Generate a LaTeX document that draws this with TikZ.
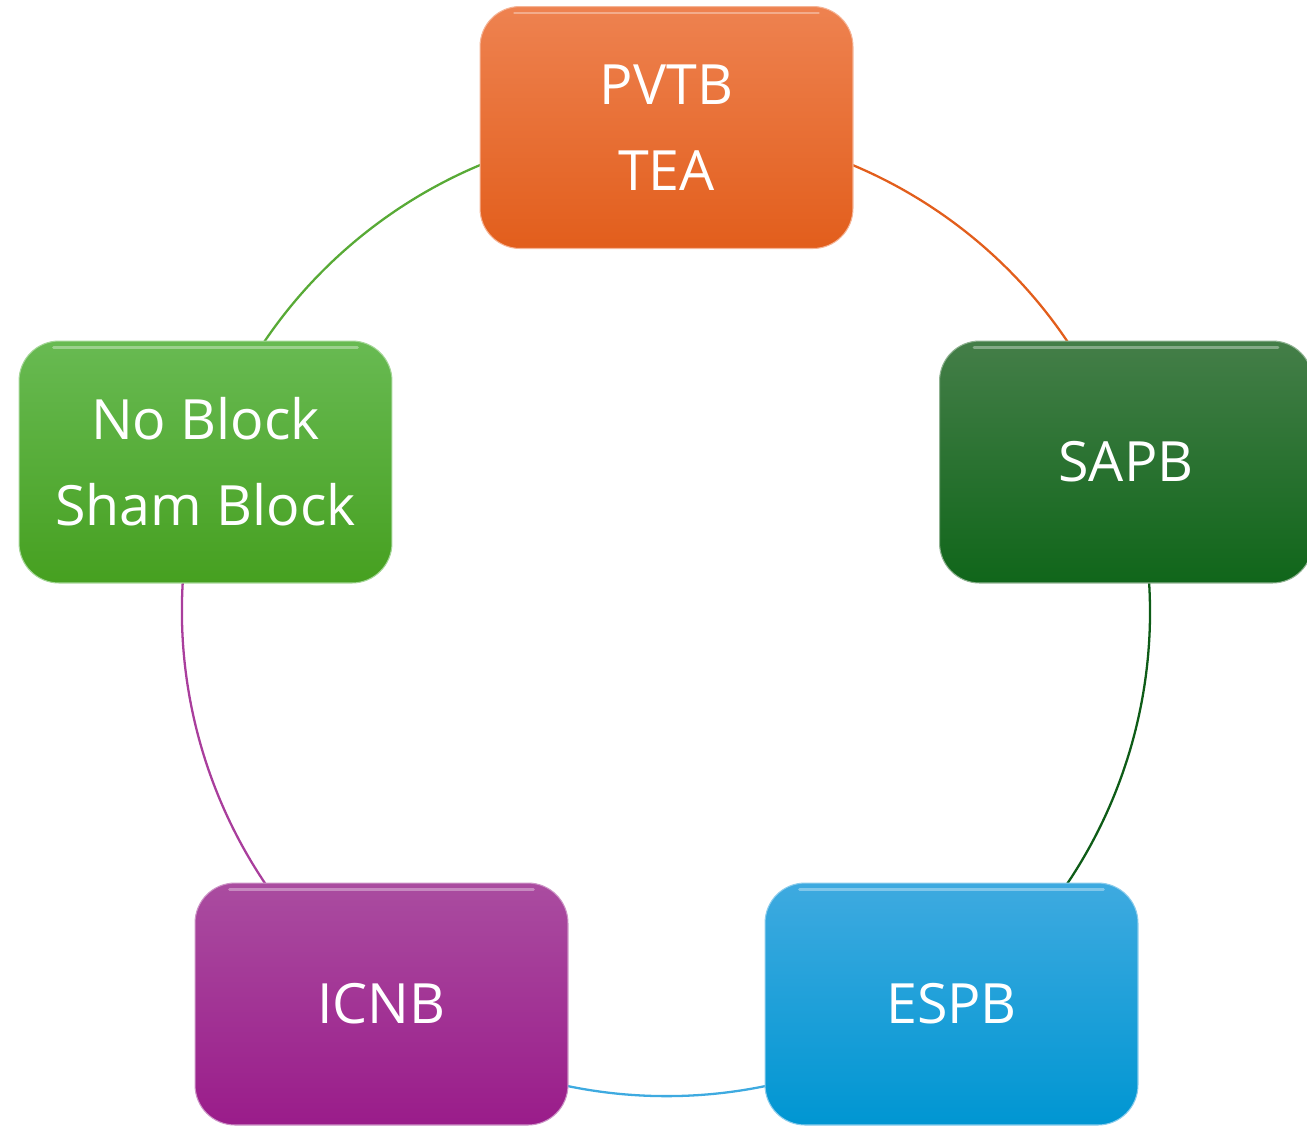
\documentclass[tikz,border=0pt]{standalone}
\usepackage{fontspec}
\setmainfont{Open Sans}
\usetikzlibrary{backgrounds}

\definecolor{orangetop}{RGB}{238,130,80}
\definecolor{orangebot}{RGB}{226,94,28}
\definecolor{darkgreentop}{RGB}{68,126,72}
\definecolor{darkgreenbot}{RGB}{16,102,26}
\definecolor{greentop}{RGB}{104,186,82}
\definecolor{greenbot}{RGB}{70,160,32}
\definecolor{purpletop}{RGB}{170,76,160}
\definecolor{purplebot}{RGB}{154,28,138}
\definecolor{bluetop}{RGB}{62,170,224}
\definecolor{bluebot}{RGB}{0,150,210}

\begin{document}
\begin{tikzpicture}[x=0.02cm, y=-0.02cm,
    box/.style={rectangle, rounded corners=0.8cm, minimum width=7.46cm, minimum height=4.84cm,
        text=white, align=center, font=\fontsize{31.6}{49}\selectfont, draw=#1top!60!white, line width=0.6pt},
    link/.style={line width=1.3pt, #1}]
    \useasboundingbox (0,0) rectangle (1307,1127);

    \node[box=orange, top color=orangetop, bottom color=orangebot] (pvtb) at (666.5,127.5) {PVTB\\TEA};
    \node[box=darkgreen, top color=darkgreentop, bottom color=darkgreenbot] (sapb) at (1126,462) {SAPB};
    \node[box=blue, top color=bluetop, bottom color=bluebot] (espb) at (951.5,1004) {ESPB};
    \node[box=purple, top color=purpletop, bottom color=purplebot] (icnb) at (381.5,1004) {ICNB};
    \node[box=green, top color=greentop, bottom color=greenbot] (noblock) at (205.5,462) {No Block\\Sham Block};

    % glossy rim
    \foreach \n in {pvtb,sapb,espb,icnb,noblock}
        \draw[white, opacity=0.35, line width=1.6pt, line cap=round]
            ([xshift=0.7cm,yshift=-0.14cm]\n.north west) -- ([xshift=-0.7cm,yshift=-0.14cm]\n.north east);

    \begin{scope}[on background layer]
        \draw[link=orangebot] (pvtb.center) to[bend left=36, looseness=0.94] (sapb.center);
        \draw[link=darkgreenbot!90!black] (sapb.center) to[bend left=36, looseness=0.94] (espb.center);
        \draw[link=bluetop] (espb.center) to[bend left=36, looseness=0.94] (icnb.center);
        \draw[link=purplebot!85!white] (icnb.center) to[bend left=36, looseness=0.94] (noblock.center);
        \draw[link=greenbot!90!white] (noblock.center) to[bend left=36, looseness=0.94] (pvtb.center);
    \end{scope}
\end{tikzpicture}
\end{document}
